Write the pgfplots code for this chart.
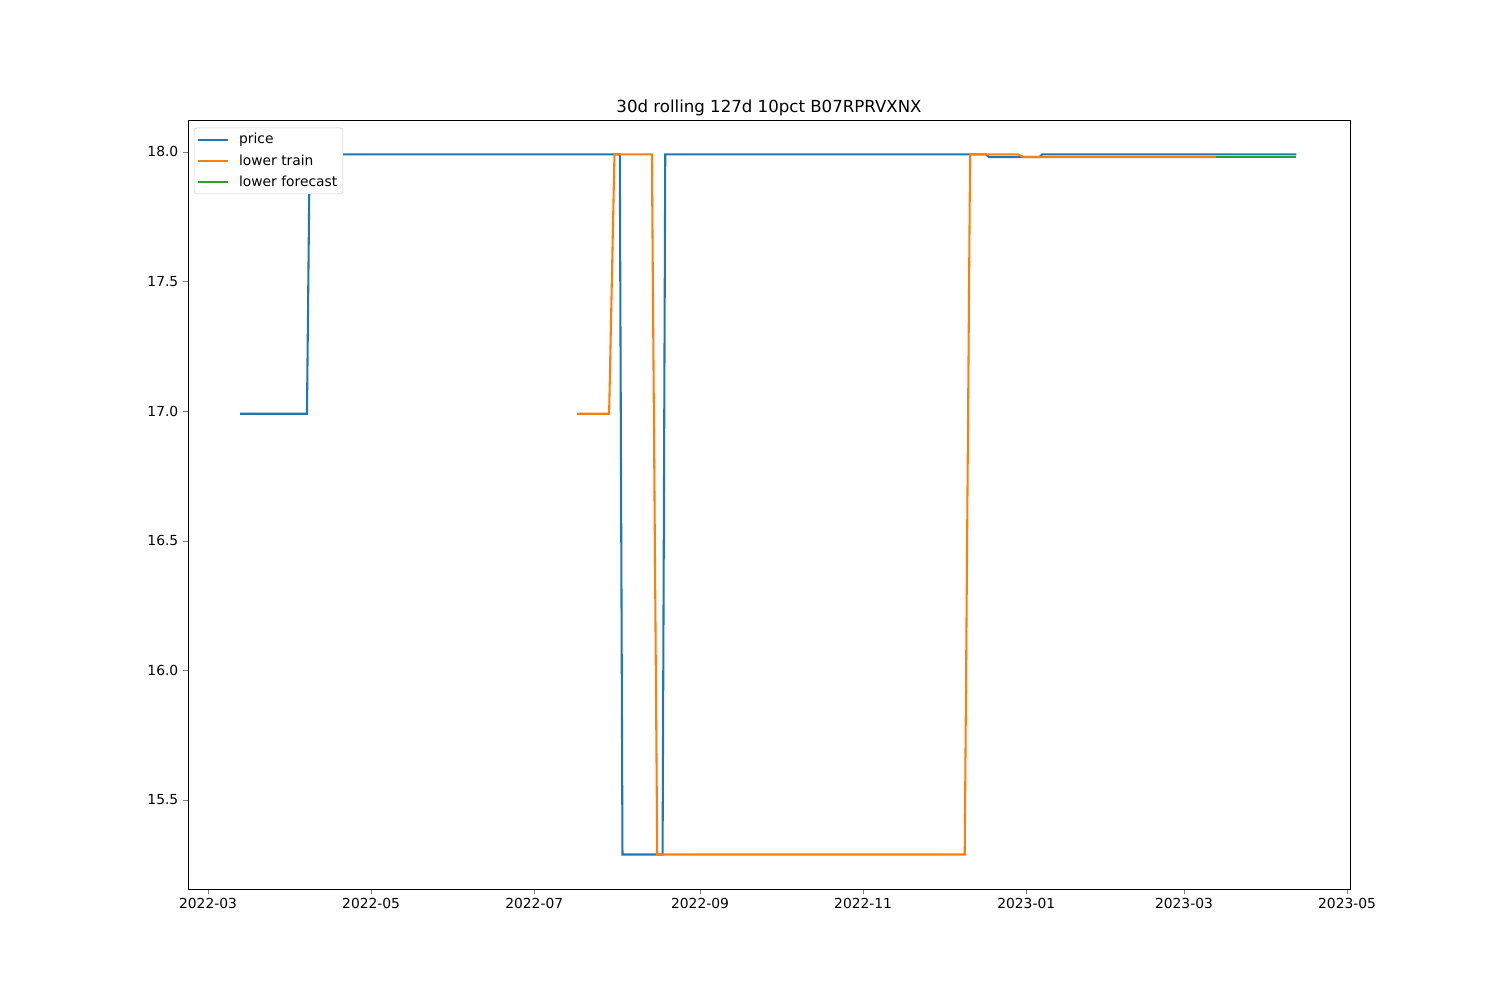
\documentclass[border=0pt]{standalone}
\usepackage{pgfplots}
\pgfplotsset{compat=1.18}
\usepackage{fontspec}
\setmainfont{DejaVu Sans}
\definecolor{c0}{HTML}{1F77B4}
\definecolor{c1}{HTML}{FF7F0E}
\definecolor{c2}{HTML}{2CA02C}
\begin{document}
\begin{tikzpicture}[x=1pt,y=1pt]
\useasboundingbox (-135.9pt,-80.2pt) rectangle (948.2pt,642.5pt);
\begin{axis}[
  at={(0,0)}, anchor=south west,
  scale only axis, width=839.8pt, height=555.8pt,
  xmin=-7.48, xmax=427.1, ymin=15.157, ymax=18.123,
  xtick={0,61,122,184,245,306,365,426},
  xticklabels={2022-03,2022-05,2022-07,2022-09,2022-11,2023-01,2023-03,2023-05},
  ytick={15.5,16,16.5,17,17.5,18},
  yticklabel style={/pgf/number format/.cd,fixed,fixed zerofill,precision=1},
  /pgf/number format/assume math mode=true,
  tick align=outside, tick pos=left,
  major tick length=3.5pt,
  tick label style={font=\fontsize{10}{12}\selectfont},
  title={30d rolling 127d 10pct B07RPRVXNX},
  title style={font=\fontsize{12}{14}\selectfont, yshift=-6.5pt},
  legend style={font=\fontsize{10}{12}\selectfont, draw=black!20, rounded corners=2pt, at={(0.005,0.99)}, anchor=north west, inner xsep=2pt, inner ysep=2pt, row sep=2.2pt, column sep=5pt},
  legend cell align=left,
  legend image code/.code={\draw[#1, line width=1.5pt] (0pt,0pt) -- (22pt,0pt);},
  axis line style={line width=0.6pt},
  every axis plot/.append style={line width=1.5pt},
]
\addplot[c0, mark=none] coordinates {
(12,16.99) (37,16.99) (38,17.99) (154,17.99) (155,15.29) (170,15.29) (171,17.99)
(291,17.99) (292,17.98) (311,17.98) (312,17.99) (407,17.99)
};
\addlegendentry{price}
\addplot[c1, mark=none] coordinates {
(138,16.99) (150,16.99) (152,17.99) (166,17.99) (168,15.29) (283,15.29) (285,17.99)
(303,17.99) (305,17.98) (377,17.98)
};
\addlegendentry{lower train}
\addplot[c2, mark=none] coordinates {
(377,17.98) (407,17.98)
};
\addlegendentry{lower forecast}
\end{axis}
\end{tikzpicture}
\end{document}
